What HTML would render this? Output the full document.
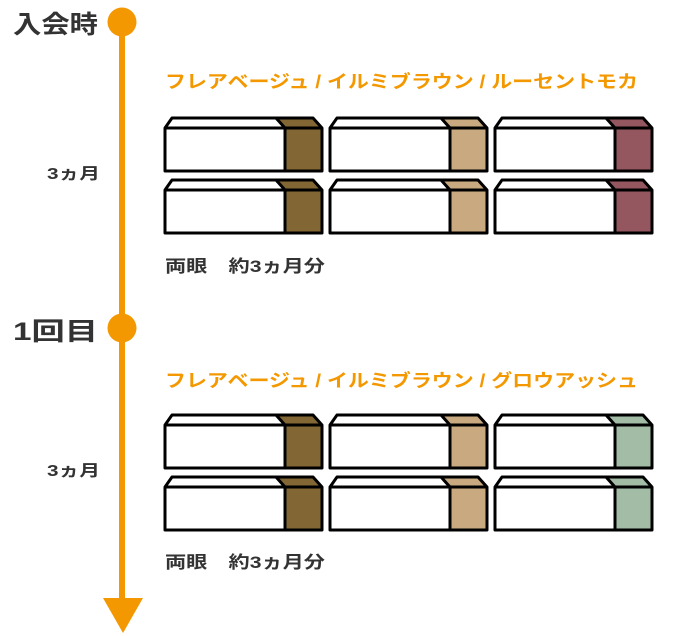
<!DOCTYPE html>
<html><head><meta charset="utf-8"><style>
html,body{margin:0;padding:0;background:#fff;}
svg{display:block;}
text{font-family:"Liberation Sans","Noto Sans CJK JP",sans-serif;font-weight:bold;}
</style></head><body>
<svg width="690" height="636" viewBox="0 0 690 636" xmlns="http://www.w3.org/2000/svg">
<defs>
<g id="bx">
 <path d="M0,10 L7,0 L148,0 L157,10 L157,53 L0,53 Z" fill="#fff"/>
</g>
<g id="ol" fill="none" stroke="#000" stroke-width="3" stroke-linejoin="round">
 <path d="M0,10 L157,10 M120,10 L120,53 M111,0 L120,10"/>
 <path d="M0,10 L7,0 L148,0 L157,10 L157,53 L0,53 Z"/>
</g>
<path id="pn" d="M111,0 L148,0 L157,10 L157,53 L120,53 L120,10 Z"/>
</defs>
<rect x="119" y="22" width="6" height="580" fill="#f39800"/>
<circle cx="122" cy="22" r="14.5" fill="#f39800"/>
<circle cx="122" cy="328" r="14.5" fill="#f39800"/>
<path d="M103,598 L143,598 L123,633 Z" fill="#f39800"/>
<text x="13" y="33" font-size="25" fill="#333" textLength="85" lengthAdjust="spacingAndGlyphs">入会時</text>
<text x="13" y="340" font-size="25" fill="#333" textLength="85" lengthAdjust="spacingAndGlyphs">1回目</text>
<text x="47" y="179" font-size="16" fill="#333" textLength="53" lengthAdjust="spacingAndGlyphs">3ヵ月</text>
<text x="47" y="476" font-size="16" fill="#333" textLength="53" lengthAdjust="spacingAndGlyphs">3ヵ月</text>
<text x="165" y="88" font-size="18" fill="#f39800" textLength="473" lengthAdjust="spacingAndGlyphs">フレアベージュ / イルミブラウン / ルーセントモカ</text>
<text x="165" y="387" font-size="18" fill="#f39800" textLength="473" lengthAdjust="spacingAndGlyphs">フレアベージュ / イルミブラウン / グロウアッシュ</text>
<text x="165" y="272" font-size="17" fill="#333" textLength="160" lengthAdjust="spacingAndGlyphs">両眼　約3ヵ月分</text>
<text x="165" y="568" font-size="17" fill="#333" textLength="160" lengthAdjust="spacingAndGlyphs">両眼　約3ヵ月分</text>

<g transform="translate(165,118)"><use href="#bx"/><use href="#pn" fill="#826634"/><use href="#ol"/></g>
<g transform="translate(330,118)"><use href="#bx"/><use href="#pn" fill="#c9aa80"/><use href="#ol"/></g>
<g transform="translate(495,118)"><use href="#bx"/><use href="#pn" fill="#94565f"/><use href="#ol"/></g>
<g transform="translate(165,180)"><use href="#bx"/><use href="#pn" fill="#826634"/><use href="#ol"/></g>
<g transform="translate(330,180)"><use href="#bx"/><use href="#pn" fill="#c9aa80"/><use href="#ol"/></g>
<g transform="translate(495,180)"><use href="#bx"/><use href="#pn" fill="#94565f"/><use href="#ol"/></g>
<g transform="translate(165,415)"><use href="#bx"/><use href="#pn" fill="#826634"/><use href="#ol"/></g>
<g transform="translate(330,415)"><use href="#bx"/><use href="#pn" fill="#c9aa80"/><use href="#ol"/></g>
<g transform="translate(495,415)"><use href="#bx"/><use href="#pn" fill="#a2bca6"/><use href="#ol"/></g>
<g transform="translate(165,477)"><use href="#bx"/><use href="#pn" fill="#826634"/><use href="#ol"/></g>
<g transform="translate(330,477)"><use href="#bx"/><use href="#pn" fill="#c9aa80"/><use href="#ol"/></g>
<g transform="translate(495,477)"><use href="#bx"/><use href="#pn" fill="#a2bca6"/><use href="#ol"/></g>
</svg>
</body></html>
